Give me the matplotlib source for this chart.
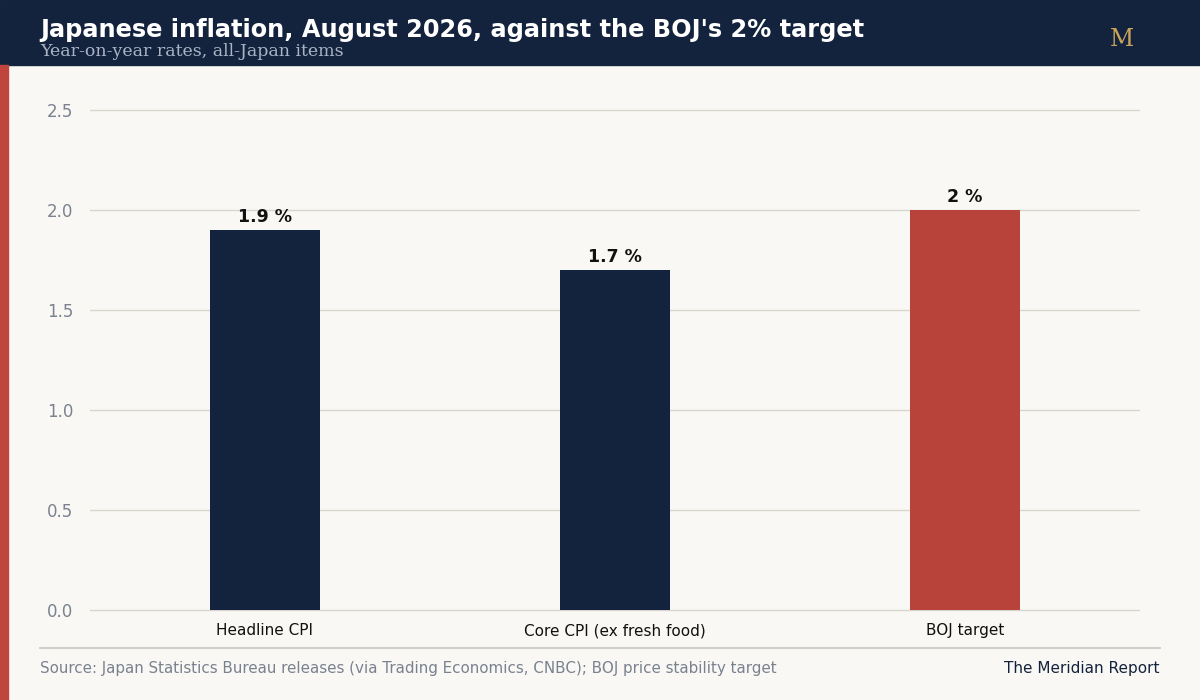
import matplotlib
matplotlib.use("Agg")
import matplotlib.pyplot as plt
from matplotlib.lines import Line2D
from matplotlib.patches import Rectangle

categories = ["Headline CPI", "Core CPI (ex fresh food)", "BOJ target"]
values = [1.9, 1.7, 2.0]
labels = ["1.9 %", "1.7 %", "2 %"]
colors = ["#13233d", "#13233d", "#b8433a"]

W, H = 1200, 700
fig = plt.figure(figsize=(W/100, H/100), dpi=100, facecolor="#faf8f4")
fig.patches.append(Rectangle((0, 1-65/H), 1, 65/H, transform=fig.transFigure, color="#13233d", zorder=0))
fig.patches.append(Rectangle((0, 0), 8/W, 1-65/H, transform=fig.transFigure, color="#c0463d", zorder=0))
fig.text(40/W, 1-30/H, "Japanese inflation, August 2026, against the BOJ's 2% target",
         color="white", fontsize=17.3, fontweight="bold", va="center", family="DejaVu Sans")
fig.text(40/W, 1-52/H, "Year-on-year rates, all-Japan items", color="#aab4c6",
         fontsize=12.5, va="center", family="DejaVu Serif")
fig.text(1122/W, 1-40/H, "M", color="#c9a45a", fontsize=17, va="center", ha="center", family="DejaVu Serif")

ax = fig.add_axes([90/W, 1-612/H, 1050/W, 522/H])
ax.set_facecolor("#faf8f4")
x = range(len(categories))
ax.bar(x, values, width=0.315, color=colors, zorder=3)
for i, (v, l) in enumerate(zip(values, labels)):
    ax.text(i, v + 0.02, l, ha="center", va="bottom", fontsize=12.5, fontweight="bold", color="#111")
ax.set_xlim(-0.5, 2.5)
ax.set_ylim(-0.01, 2.6)
ax.set_yticks([0, 0.5, 1.0, 1.5, 2.0, 2.5])
ax.set_yticklabels(["0.0", "0.5", "1.0", "1.5", "2.0", "2.5"])
ax.set_xticks(list(x))
ax.set_xticklabels(categories)
ax.grid(axis="y", color="#d8d5cf", lw=1, zorder=0)
for s in ax.spines.values():
    s.set_visible(False)
ax.tick_params(axis="y", length=0, labelsize=12, colors="#7a8290", pad=12)
ax.tick_params(axis="x", length=0, labelsize=11, labelcolor="#111", pad=8)

fig.add_artist(Line2D([40/W, 1160/W], [1-648/H, 1-648/H], color="#c8c5bf", lw=1.2))
fig.text(40/W, 1-668/H, "Source: Japan Statistics Bureau releases (via Trading Economics, CNBC); BOJ price stability target",
         color="#7a8290", fontsize=10.9, va="center")
fig.text(1160/W, 1-668/H, "The Meridian Report", color="#13233d", fontsize=11, va="center", ha="right")
fig.savefig("out.png", dpi=100, facecolor=fig.get_facecolor())
